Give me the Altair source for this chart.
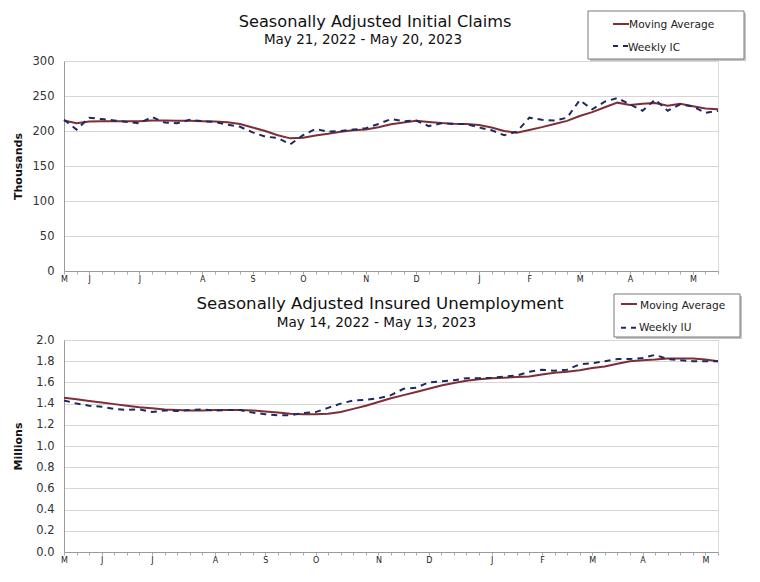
import altair as alt
import pandas as pd

# ---------------- data ----------------
weeks = list(range(53))

ic_weekly = [216, 202, 219, 217, 215, 213, 211, 220, 212, 211, 216, 214, 213, 209, 206, 198,
             192, 190, 181, 194, 203, 199, 200, 202, 204, 210, 217, 214, 215, 207, 211, 210,
             210, 205, 201, 194, 199, 219, 216, 215, 219, 244, 231, 242, 247, 238, 229, 245,
             229, 238, 235, 226, 229]
ic_ma = [215, 211, 213.5, 214, 214, 214, 214, 215, 215, 214.5, 214.5, 214, 213.5, 212.5, 210, 205,
         200, 194, 189.5, 190.5, 193.5, 196, 199, 201, 202, 205.5, 209.5, 212, 214.5, 213, 211.5, 210.5,
         210, 208.5, 205, 200, 197.5, 201.5, 205.5, 210, 214.5, 221.5, 227, 234, 240.5, 237, 239, 240,
         236, 239, 235.5, 232, 231]

iu_weekly = [1.43, 1.40, 1.38, 1.37, 1.35, 1.34, 1.345, 1.32, 1.335, 1.33, 1.34, 1.345, 1.335, 1.34,
             1.34, 1.315, 1.30, 1.29, 1.29, 1.31, 1.32, 1.36, 1.40, 1.43, 1.435, 1.45, 1.48, 1.54,
             1.55, 1.60, 1.61, 1.62, 1.64, 1.64, 1.645, 1.655, 1.665, 1.70, 1.72, 1.71, 1.72, 1.77,
             1.78, 1.80, 1.82, 1.82, 1.83, 1.86, 1.82, 1.81, 1.80, 1.80, 1.80]
iu_ma = [1.455, 1.44, 1.425, 1.41, 1.395, 1.38, 1.365, 1.355, 1.345, 1.34, 1.335, 1.335, 1.34, 1.34,
         1.34, 1.335, 1.325, 1.315, 1.305, 1.30, 1.30, 1.305, 1.32, 1.35, 1.38, 1.415, 1.45, 1.48,
         1.51, 1.54, 1.57, 1.595, 1.615, 1.63, 1.64, 1.645, 1.65, 1.655, 1.675, 1.69, 1.70, 1.715,
         1.735, 1.75, 1.775, 1.80, 1.81, 1.815, 1.825, 1.825, 1.825, 1.815, 1.80]

month_letters = ["M", "J", "J", "A", "S", "O", "N", "D", "J", "F", "M", "A", "M"]
ic_label_weeks = [0, 2, 6, 11, 15, 19, 24, 28, 33, 37, 41, 45, 50]
iu_label_weeks = [0, 3, 7, 12, 16, 20, 25, 29, 34, 38, 42, 46, 51]

ic_ticks = [0, 50, 100, 150, 200, 250, 300]
iu_ticks = [0.0, 0.2, 0.4, 0.6, 0.8, 1.0, 1.2, 1.4, 1.6, 1.8, 2.0]

FONT = "DejaVu Sans"
MA_COLOR = "#7e2f36"
WK_COLOR = "#1e2a5e"
PLOT_W = 654


def label_expr(label_weeks):
    arr = [""] * len(weeks)
    for i, l in zip(label_weeks, month_letters):
        arr[i] = l
    return "[" + ",".join("'%s'" % a for a in arr) + "][datum.value]"


one = pd.DataFrame({"a": [0]})


def txt(text, x, y, size, align="left", weight="normal", color="#111"):
    return alt.Chart(one).mark_text(
        text=text, font=FONT, fontSize=size, align=align, baseline="alphabetic",
        fontWeight=weight, color=color
    ).encode(x=alt.value(x), y=alt.value(y))


def panel(weekly, ma, weekly_name, y_title, y_ticks, y_fmt, label_weeks, title, subtitle,
          height, title_x, title_y, sub_x, sub_y, title_size, sub_size, box, label_pad):
    df_ma = pd.DataFrame({"week": weeks, "value": ma})
    df_wk = pd.DataFrame({"week": weeks, "value": weekly})
    x = alt.X("week:Q", scale=alt.Scale(domain=[0, 52], nice=False, zero=False),
              axis=alt.Axis(values=weeks, labelExpr=label_expr(label_weeks), grid=False, title=None,
                            tickSize=3, tickColor="#aaaaaa", domainColor="#9a9a9a",
                            labelFontSize=8, labelFont=FONT, labelColor="#222",
                            labelPadding=label_pad, labelFlush=False, labelOverlap=False))
    y = alt.Y("value:Q", scale=alt.Scale(domain=[y_ticks[0], y_ticks[-1]], nice=False, zero=True),
              axis=alt.Axis(values=y_ticks, format=y_fmt, title=y_title, titleX=-46, titleY=height / 2,
                            titleAngle=270, titleAlign="center", titleBaseline="middle", titleFont=FONT,
                            titleFontSize=11, titleFontWeight="bold", titleColor="#111",
                            labelFont=FONT, labelFontSize=11.5, labelColor="#333", ticks=False,
                            labelPadding=10, grid=True, gridColor="#d6d6d6", domainColor="#9a9a9a"))
    ma_line = alt.Chart(df_ma).mark_line(color=MA_COLOR, strokeWidth=2).encode(x=x, y=y)
    wk_line = alt.Chart(df_wk).mark_line(color=WK_COLOR, strokeWidth=2, strokeDash=[6, 5]).encode(x=x, y=y)

    bx1, bx2, by1, by2, s1x, s1y, t1y, s2y, t2y, tx = box
    shadow = alt.Chart(one).mark_rect(color="#c4c4c4").encode(
        x=alt.value(bx1 + 2), x2=alt.value(bx2 + 2), y=alt.value(by1 + 2), y2=alt.value(by2 + 2))
    frame = alt.Chart(one).mark_rect(fill="white", stroke="#7a7a7a", strokeWidth=1).encode(
        x=alt.value(bx1), x2=alt.value(bx2), y=alt.value(by1), y2=alt.value(by2))
    samp1 = alt.Chart(one).mark_rule(color=MA_COLOR, strokeWidth=2).encode(
        x=alt.value(s1x), x2=alt.value(s1x + 16), y=alt.value(s1y))
    samp2 = alt.Chart(one).mark_rule(color=WK_COLOR, strokeWidth=2, strokeDash=[5, 5]).encode(
        x=alt.value(s1x), x2=alt.value(s1x + 15), y=alt.value(s2y))
    t1 = txt("Moving Average", tx, t1y, 10.6, color="#222")
    t2 = txt(weekly_name, tx - 1, t2y, 10.6, color="#222")

    ttl = txt(title, title_x, title_y, title_size, align="center")
    sub = txt(subtitle, sub_x, sub_y, sub_size, align="center")

    return alt.layer(ma_line, wk_line, shadow, frame, samp1, samp2, t1, t2, ttl, sub).properties(
        width=PLOT_W, height=height)


top = panel(ic_weekly, ic_ma, "Weekly IC", "Thousands", ic_ticks, "d", ic_label_weeks,
            "Seasonally Adjusted Initial Claims", "May 21, 2022 - May 20, 2023",
            210, 311, -34, 299, -17.5, 16.2, 13.5,
            (524, 680, -50, -2, 549, -37, -33, -15, -10, 565), 1)

bottom = panel(iu_weekly, iu_ma, "Weekly IU", "Millions", iu_ticks, ".1f", iu_label_weeks,
               "Seasonally Adjusted Insured Unemployment", "May 14, 2022 - May 13, 2023",
               212, 316, -31, 312.5, -13.5, 16.6, 13.6,
               (550, 676, -46, -3, 557, -36, -31, -12.3, -9.3, 576), 1.5)

chart = alt.vconcat(top, bottom, spacing=9).properties(
    padding={"left": 3, "top": 2, "right": 0, "bottom": 0}
).configure_view(stroke="#c8c8c8").configure(background="white")

chart.save("out.html", embed_options={"renderer": "svg", "actions": False})
